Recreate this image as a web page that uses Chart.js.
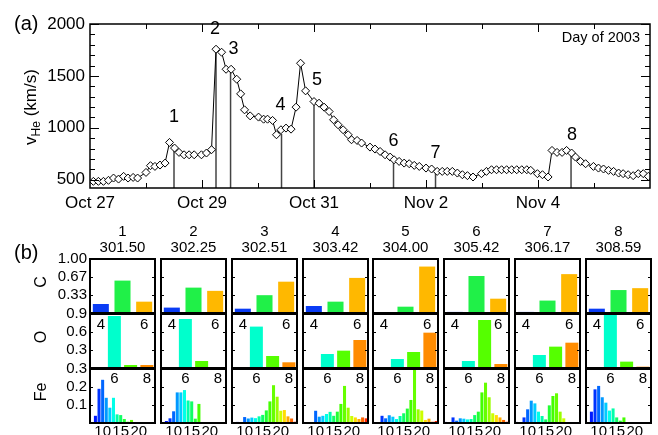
<!DOCTYPE html>
<html>
<head>
<meta charset="utf-8">
<script src="https://cdn.jsdelivr.net/npm/chart.js@4.4.1/dist/chart.umd.min.js"></script>
<style>
  body { margin: 0; background: #fff; }
  #wrap { position: relative; width: 658px; height: 435px; overflow: hidden; background: #fff; }
  canvas { position: absolute; }
</style>
</head>
<body>
<div id="wrap">
  <canvas id="topPlot" width="658" height="435" style="left:0;top:0"></canvas>
</div>
<script>
// ---------- panel (a): He speed vs day of 2003 ----------
const days = [300.06, 300.15, 300.24, 300.33, 300.42, 300.51, 300.60, 300.68, 300.77, 300.85,
  301.00, 301.08, 301.16, 301.25, 301.34, 301.42, 301.51, 301.59, 301.68, 301.77, 301.86, 301.99,
  302.08, 302.17, 302.25, 302.35, 302.43, 302.52, 302.62, 302.69, 302.76, 302.86, 303.01, 303.10,
  303.17, 303.26, 303.33, 303.41, 303.50, 303.59, 303.68, 303.76, 303.85, 304.00, 304.09, 304.18,
  304.27, 304.35, 304.43, 304.52, 304.61, 304.67, 304.77, 304.85, 305.00, 305.09, 305.18, 305.27,
  305.36, 305.43, 305.52, 305.61, 305.70, 305.79, 305.88, 306.00, 306.10, 306.20, 306.29, 306.38,
  306.47, 306.56, 306.65, 306.74, 306.84, 306.99, 307.08, 307.17, 307.26, 307.35, 307.44, 307.53,
  307.62, 307.71, 307.80, 307.87, 307.99, 308.08, 308.18, 308.25, 308.34, 308.43, 308.51, 308.60,
  308.67, 308.76, 308.85, 308.99, 309.08, 309.17, 309.26, 309.35, 309.44, 309.52, 309.61, 309.70,
  309.79, 309.88, 309.97];
const vHe = [484, 484, 484, 494, 516, 506, 532, 516, 522, 516,
  570, 635, 628, 641, 660, 859, 805, 763, 740, 740, 740, 740,
  757, 789, 1757, 1728, 1564, 1564, 1468, 1327, 1173, 1115, 1103, 1083,
  1083, 1071, 933, 981, 997, 987, 1199, 1622, 1356, 1253, 1237, 1199,
  1157, 1077, 1029, 981, 933, 885, 878, 853, 814, 795, 772, 740,
  718, 692, 676, 660, 654, 638, 628, 612, 603, 580, 580, 580,
  580, 564, 548, 539, 526, 558, 580, 596, 596, 596, 596, 596,
  596, 596, 596, 590, 558, 548, 526, 782, 763, 763, 782, 757,
  718, 676, 654, 628, 612, 603, 590, 580, 564, 558, 548, 539,
  558, 558, 532];

const eventNames = ['1', '2', '3', '4', '5', '6', '7', '8'];
const eventDays = [301.50, 302.25, 302.51, 303.42, 304.00, 305.42, 306.17, 308.59];
const eventTops = [805, 1757, 1558, 940, 1250, 692, 596, 757];

const dateTicks = [300, 302, 304, 306, 308];
const dateNames = ['Oct 27', 'Oct 29', 'Oct 31', 'Nov 2', 'Nov 4'];
const speedTicks = [500, 1000, 1500, 2000];

// ---------- panel (b): charge state fractions ----------
const cCharges = ['4', '5', '6'];
const cFrac = [
  [0.167, 0.60, 0.21], [0.10, 0.47, 0.41], [0.08, 0.33, 0.58], [0.13, 0.21, 0.65],
  [0.005, 0.117, 0.86], [0.02, 0.685, 0.265], [0.02, 0.23, 0.72], [0.08, 0.425, 0.46]
];
const oCharges = ['5', '6', '7', '8'];
const oFrac = [
  [0.01, 0.867, 0.05, 0.05], [0.01, 0.817, 0.117, 0.012], [0.01, 0.69, 0.20, 0.095],
  [0.005, 0.233, 0.289, 0.467], [0.005, 0.15, 0.267, 0.589], [0.005, 0.117, 0.80, 0.067],
  [0.005, 0.217, 0.356, 0.422], [0.005, 0.883, 0.106, 0.022]
];
const feCharges = ['7', '8', '9', '10', '11', '12', '13', '14', '15', '16', '17', '18', '19', '20', '21', '22', '23', '24'];
const feFrac = [
  [0.004, 0.04, 0.19, 0.24, 0.14, 0.085, 0.14, 0.048, 0.044, 0.022, 0.007, 0.017, 0.002, 0.002, 0.002, 0.002, 0.001, 0],
  [0, 0.011, 0.026, 0.065, 0.17, 0.17, 0.183, 0.125, 0.12, 0.024, 0.106, 0, 0, 0, 0, 0, 0, 0],
  [0, 0.006, 0, 0.033, 0.025, 0.03, 0.027, 0.037, 0.045, 0.07, 0.12, 0.21, 0.146, 0.068, 0.072, 0.037, 0.025, 0.007],
  [0, 0, 0, 0.068, 0.035, 0.04, 0.05, 0.062, 0.04, 0.063, 0.106, 0.206, 0.085, 0.039, 0.031, 0.022, 0.031, 0.026],
  [0, 0, 0.04, 0.026, 0.043, 0.035, 0.022, 0.039, 0.054, 0.08, 0.128, 0.32, 0.076, 0.069, 0.017, 0.024, 0.007, 0.011],
  [0.006, 0.004, 0.031, 0.013, 0.026, 0.024, 0.02, 0.022, 0.044, 0.063, 0.17, 0.224, 0.143, 0.054, 0.044, 0.031, 0.017, 0.007],
  [0.006, 0.002, 0.031, 0.076, 0.124, 0.109, 0.063, 0.039, 0.02, 0.098, 0.15, 0.165, 0.063, 0.026, 0.003, 0.002, 0.001, 0],
  [0, 0.063, 0.187, 0.206, 0.143, 0.113, 0.069, 0.081, 0.031, 0.013, 0.031, 0.002, 0.002, 0.002, 0.001, 0, 0, 0]
];

// colours
const cColors = ['#0a3cf5', '#20f048', '#ffb800'];
const oColors = ['#1020c0', '#00ffcc', '#55ff00', '#ff8c00'];
const feColors = ['#3010d0', '#0018ff', '#0034ff', '#0066ff', '#0099ff', '#00ccff', '#00ffe8', '#00ffaa',
  '#10ff66', '#22ff33', '#44ff00', '#66ff00', '#99ff00', '#ccff00', '#ffdd00', '#ffaa00', '#ff6600', '#ff2200'];

const fam = "'Liberation Sans', Arial, sans-serif";
Chart.defaults.font.family = fam;
Chart.defaults.color = '#000';

// ---------- top plot ----------
const labelDx = [0, -1, 3, -1, 3, 0, 0, 1];
const labelDy = [31, 20, 21, 29, 22, 19, 17, 18];

function seg(ctx, x1, y1, x2, y2) {
  ctx.beginPath(); ctx.moveTo(x1, y1); ctx.lineTo(x2, y2); ctx.stroke();
}

const topDecor = {
  id: 'topDecor',
  afterDraw(chart) {
    const { ctx, chartArea: a, scales: { x, y } } = chart;
    ctx.save();
    ctx.strokeStyle = '#000';
    ctx.fillStyle = '#000';
    ctx.lineWidth = 1;
    // inward ticks, IDL style
    for (let v = 500; v <= 2000; v += 100) {
      const py = Math.round(y.getPixelForValue(v)) + 0.5;
      const len = v % 500 === 0 ? 9 : 5;
      seg(ctx, a.left, py, a.left + len, py);
      seg(ctx, a.right, py, a.right - len, py);
    }
    for (let d = 301; d < 310; d++) {
      const px = Math.round(x.getPixelForValue(d)) + 0.5;
      const len = d % 2 === 0 ? 8 : 5;
      seg(ctx, px, a.top, px, a.top + len);
      seg(ctx, px, a.bottom, px, a.bottom - len);
    }
    ctx.lineWidth = 1.5;
    ctx.strokeRect(a.left, a.top, a.right - a.left, a.bottom - a.top);

    // event numbers
    ctx.font = '18px ' + fam;
    ctx.textAlign = 'center';
    ctx.textBaseline = 'middle';
    eventDays.forEach((d, i) => {
      ctx.fillText(eventNames[i], x.getPixelForValue(d) + labelDx[i], y.getPixelForValue(eventTops[i]) - labelDy[i]);
    });

    ctx.font = '14.5px ' + fam;
    ctx.textAlign = 'right';
    ctx.fillText('Day of 2003', a.right - 10, a.top + 14);

    ctx.font = '20px ' + fam;
    ctx.textAlign = 'left';
    ctx.fillText('(a)', 14, 24);
    ctx.fillText('(b)', 14, 253);

    // y title with subscript
    ctx.translate(31, 107);
    ctx.rotate(-Math.PI / 2);
    ctx.textBaseline = 'alphabetic';
    ctx.font = '17px ' + fam;
    const w1 = ctx.measureText('v').width, w3 = ctx.measureText(' (km/s)').width;
    ctx.font = '12px ' + fam;
    const w2 = ctx.measureText('He').width;
    let sx = -(w1 + w2 + w3) / 2;
    ctx.font = '17px ' + fam;
    ctx.fillText('v', sx, 5); sx += w1;
    ctx.font = '12px ' + fam;
    ctx.fillText('He', sx, 9); sx += w2;
    ctx.font = '17px ' + fam;
    ctx.fillText(' (km/s)', sx, 5);
    ctx.restore();
  }
};

const yMin = 420;
new Chart(document.getElementById('topPlot'), {
  type: 'line',
  data: {
    datasets: [
      {
        data: days.map((d, i) => ({ x: d, y: vHe[i] })),
        borderColor: '#000', borderWidth: 1, tension: 0,
        pointStyle: 'rectRot', pointRadius: 4, pointBorderWidth: 1,
        pointBackgroundColor: '#fff', pointBorderColor: '#000'
      },
      ...eventDays.map((d, i) => ({
        data: [{ x: d, y: yMin }, { x: d, y: eventTops[i] }],
        borderColor: '#444', borderWidth: 1.5, pointRadius: 0
      }))
    ]
  },
  options: {
    responsive: false, animation: false, events: [],
    layout: { padding: { left: 0, right: 8, top: 24, bottom: 220 } },
    plugins: { legend: { display: false }, tooltip: { enabled: false } },
    scales: {
      x: {
        type: 'linear', min: 300, max: 310,
        afterBuildTicks: s => { s.ticks = dateTicks.map(v => ({ value: v })); },
        afterFit: s => { s.height = 27; },
        grid: { display: false, drawTicks: false }, border: { display: false },
        ticks: { autoSkip: false, maxRotation: 0, padding: 5, font: { size: 17 },
          callback: (v, i) => dateNames[i] }
      },
      y: {
        min: yMin, max: 2000,
        afterBuildTicks: s => { s.ticks = speedTicks.map(v => ({ value: v })); },
        afterFit: s => { s.width = 90; },
        grid: { display: false, drawTicks: false }, border: { display: false },
        ticks: { padding: 5, font: { size: 17 }, callback: v => String(v) }
      }
    }
  },
  plugins: [topDecor]
});

// ---------- bottom small panels ----------
const panelLeft = [90, 161, 232, 303, 373, 444, 515, 586];
const rowTop = [259, 314, 369];
const panelW = 65, panelH = 54, M = 60;

const rows = [
  { name: 'C', labels: cCharges, data: cFrac, colors: cColors, max: 1.0, pct: 0.74,
    ticks: [0.33, 0.67, 1.0], tickText: ['0.33', '0.67', '1.00'], below: ['4', '6'], belowGap: 12 },
  { name: 'O', labels: oCharges, data: oFrac, colors: oColors, max: 0.9, pct: 0.8,
    ticks: [0.3, 0.6, 0.9], tickText: ['0.3', '0.6', '0.9'], below: ['6', '8'], belowGap: 11 },
  { name: 'Fe', labels: feCharges, data: feFrac, colors: feColors, max: 0.3, pct: 0.84,
    ticks: [0.1, 0.2, 0.3], tickText: ['0.1', '0.2', '0.3'], below: ['10', '15', '20'], belowGap: 8.5 }
];

const smallDecor = (r, c) => ({
  id: 'small' + r + '_' + c,
  afterDraw(chart) {
    const { ctx, chartArea: a, scales } = chart;
    const row = rows[r];
    ctx.save();
    ctx.strokeStyle = '#000';
    ctx.fillStyle = '#000';
    ctx.lineWidth = 1;
    row.ticks.forEach(t => {
      const py = Math.round(scales.y.getPixelForValue(t)) + 0.5;
      seg(ctx, a.left, py, a.left + 3, py);
      seg(ctx, a.right, py, a.right - 3, py);
    });
    ctx.lineWidth = 2;
    ctx.strokeRect(a.left, a.top, a.right - a.left, a.bottom - a.top);

    ctx.font = '15px ' + fam;
    ctx.textAlign = 'center';
    ctx.textBaseline = 'middle';
    row.below.forEach(lab => {
      ctx.fillText(lab, scales.x.getPixelForValue(row.labels.indexOf(lab)), a.bottom + row.belowGap);
    });
    if (r === 0) {
      const cx = (a.left + a.right) / 2;
      ctx.fillText(eventNames[c], cx, a.top - 27);
      ctx.fillText(eventDays[c].toFixed(2), cx, a.top - 11);
    }
    if (c === 0) {
      ctx.textAlign = 'right';
      row.ticks.forEach((t, k) => ctx.fillText(row.tickText[k], a.left - 3, scales.y.getPixelForValue(t)));
      ctx.translate(a.left - 48, (a.top + a.bottom) / 2 - 4);
      ctx.rotate(-Math.PI / 2);
      ctx.textAlign = 'center';
      ctx.font = '16px ' + fam;
      ctx.fillText(row.name, 0, 0);
    }
    ctx.restore();
  }
});

const wrap = document.getElementById('wrap');
rows.forEach((row, r) => {
  for (let c = 0; c < 8; c++) {
    const cv = document.createElement('canvas');
    cv.width = panelW + 2 * M;
    cv.height = panelH + 2 * M;
    cv.style.left = (panelLeft[c] - M) + 'px';
    cv.style.top = (rowTop[r] - M) + 'px';
    wrap.appendChild(cv);
    new Chart(cv, {
      type: 'bar',
      data: {
        labels: row.labels,
        datasets: [{ data: row.data[c], backgroundColor: row.colors, borderWidth: 0,
          barPercentage: row.pct, categoryPercentage: 1 }]
      },
      options: {
        responsive: false, animation: false, events: [],
        layout: { padding: M },
        plugins: { legend: { display: false }, tooltip: { enabled: false } },
        scales: {
          x: { display: false },
          y: { display: false, min: 0, max: row.max }
        }
      },
      plugins: [smallDecor(r, c)]
    });
  }
});
</script>
</body>
</html>
